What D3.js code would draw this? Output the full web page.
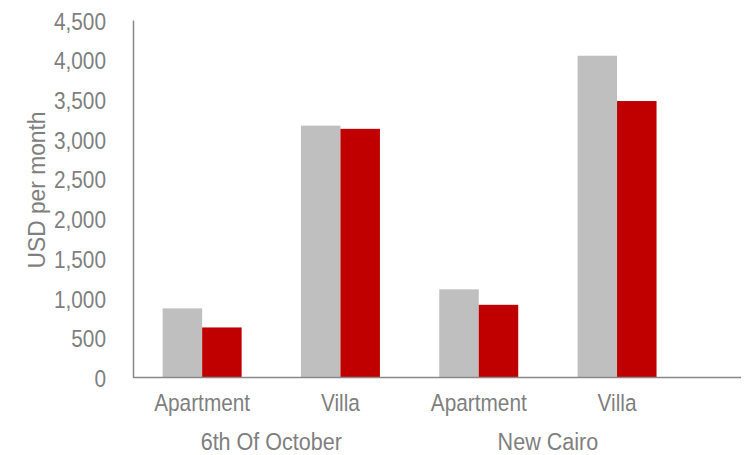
<!DOCTYPE html>
<html>
<head>
<meta charset="utf-8">
<script src="https://cdn.jsdelivr.net/npm/d3@7"></script>
<style>
  body { margin: 0; background: #fff; }
  svg text { font-family: "Liberation Sans Narrow", "Arial Narrow", "Liberation Sans", Arial, sans-serif; fill: #7f7f7f; }
</style>
</head>
<body>
<div class="chart"></div>
<script>
// data
const categories = ["Apartment", "Villa", "Apartment", "Villa"];
const groups = ["6th Of October", "New Cairo"];
const groupOf = [0, 0, 1, 1];
const seriesA = [870, 3170, 1110, 4050];   // grey bars
const seriesB = [630, 3130, 915, 3480];    // red bars
const yTicks = [0, 500, 1000, 1500, 2000, 2500, 3000, 3500, 4000, 4500];

const width = 745,
  height = 455;

const plotLeft = 133,
  plotTop = 20,
  plotBottom = 377.5,
  axisEnd = 741,
  step = 138.3;

const svg = d3.select(".chart")
  .append("svg")
  .attr("width", width)
  .attr("height", height);

// the reference uses a condensed face, so squeeze the text horizontally
function squeeze(sel, x, y, sx) {
  sel.attr("x", 0).attr("y", 0)
    .attr("transform", (d, i) => "translate(" + x(d, i) + "," + y + ") scale(" + sx + ",1)");
}

let x0 = d3.scaleBand()
  .domain(d3.range(categories.length))
  .range([plotLeft, plotLeft + step * categories.length])
  .paddingInner(0.429)
  .paddingOuter(0.2145);

let x1 = d3.scaleBand()
  .domain(["a", "b"])
  .range([0, x0.bandwidth()]);

let y = d3.scaleLinear()
  .domain([0, 4500])
  .range([plotBottom, plotTop]);

let color = d3.scaleOrdinal()
  .domain(["a", "b"])
  .range(["#bfbfbf", "#c00000"]);

let rows = categories.map((c, i) => ({ i: i, vals: [{ k: "a", v: seriesA[i] }, { k: "b", v: seriesB[i] }] }));

// bars
svg.append("g")
  .selectAll("g")
  .data(rows)
  .join("g")
  .attr("transform", d => "translate(" + x0(d.i) + ",0)")
  .selectAll("rect")
  .data(d => d.vals)
  .join("rect")
  .attr("x", d => x1(d.k))
  .attr("y", d => y(d.v))
  .attr("width", x1.bandwidth())
  .attr("height", d => plotBottom - y(d.v))
  .attr("fill", d => color(d.k));

// y axis
let yAxis = svg.append("g")
  .attr("transform", "translate(" + plotLeft + ",0)")
  .call(d3.axisLeft(y).tickValues(yTicks).tickSize(0).tickFormat(d3.format(",")));
yAxis.select(".domain").attr("stroke", "#898989").attr("stroke-width", 1.5);
yAxis.selectAll(".tick text")
  .style("font-size", "24.5px")
  .attr("dy", "0.37em")
  .attr("x", 0)
  .attr("transform", "translate(-27,0) scale(0.85,1)");

// x axis line
svg.append("line")
  .attr("x1", plotLeft)
  .attr("x2", axisEnd)
  .attr("y1", plotBottom)
  .attr("y2", plotBottom)
  .attr("stroke", "#898989")
  .attr("stroke-width", 1.5);

// category labels
svg.append("g")
  .selectAll("text")
  .data(categories)
  .join("text")
  .attr("text-anchor", "middle")
  .style("font-size", "24.5px")
  .text(d => d)
  .call(squeeze, (d, i) => x0(i) + x0.bandwidth() / 2, 411, 0.85);

// group labels, centred under their two categories
svg.append("g")
  .selectAll("text")
  .data(groups)
  .join("text")
  .attr("text-anchor", "middle")
  .style("font-size", "24.5px")
  .text(d => d)
  .call(squeeze, (d, i) => {
    let idx = d3.range(categories.length).filter(j => groupOf[j] === i);
    return (x0(idx[0]) + x0(idx[idx.length - 1]) + x0.bandwidth()) / 2;
  }, 450, 0.88);

// y title
svg.append("text")
  .attr("text-anchor", "middle")
  .style("font-size", "24px")
  .attr("transform", "translate(45,190) rotate(-90) scale(0.95,1)")
  .text("USD per month");
</script>
</body>
</html>
